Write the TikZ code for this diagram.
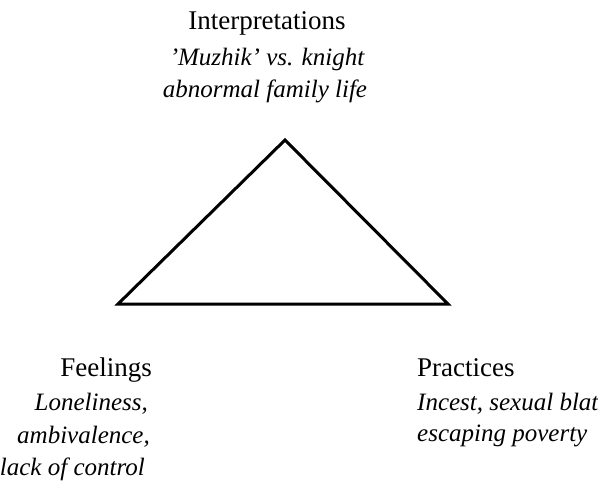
\documentclass[tikz,border=0pt]{standalone}
\usepackage{tikz}
\usepackage{fontspec}
\setmainfont{LiberationSerif}[Extension=.ttf,UprightFont=*-Regular,ItalicFont=*-Italic,BoldFont=*-Bold]

\tikzset{
	heading/.style={anchor=base,inner sep=0pt,font=\fontsize{27}{32}\selectfont},
	entry/.style={anchor=base,inner sep=0pt,font=\fontsize{25}{30}\selectfont\itshape},
	corner/.style={line width=3pt,line join=miter}
}

\begin{document}
\begin{tikzpicture}[x=1pt,y=-1pt]
	\useasboundingbox (0,0) rectangle (598,485);
	% triangle
	\coordinate (top) at (285,140);
	\coordinate (left) at (118,304);
	\coordinate (right) at (448,304);
	\draw[corner] (top) -- (left) -- (right) -- cycle;
	% top block
	\node[heading] (interp) at (267,29) {Interpretations};
	\node[entry] (muzhik) at (267,65) {'Muzhik' vs. knight};
	\node[entry] (family) at (265,97) {abnormal family life};
	% left block
	\node[heading,anchor=base east] (feel) at (152,376) {Feelings};
	\node[entry,anchor=base east] (lonely) at (148,410) {Loneliness,};
	\node[entry,anchor=base east] (ambi) at (150,443) {ambivalence,};
	\node[entry,anchor=base east] (control) at (145,475) {lack of control};
	% right block
	\node[heading,anchor=base west] (pract) at (417,376) {Practices};
	\node[entry,anchor=base west] (incest) at (417,410) {Incest, sexual blat};
	\node[entry,anchor=base west] (poverty) at (417,441) {escaping poverty};
\end{tikzpicture}
\end{document}
